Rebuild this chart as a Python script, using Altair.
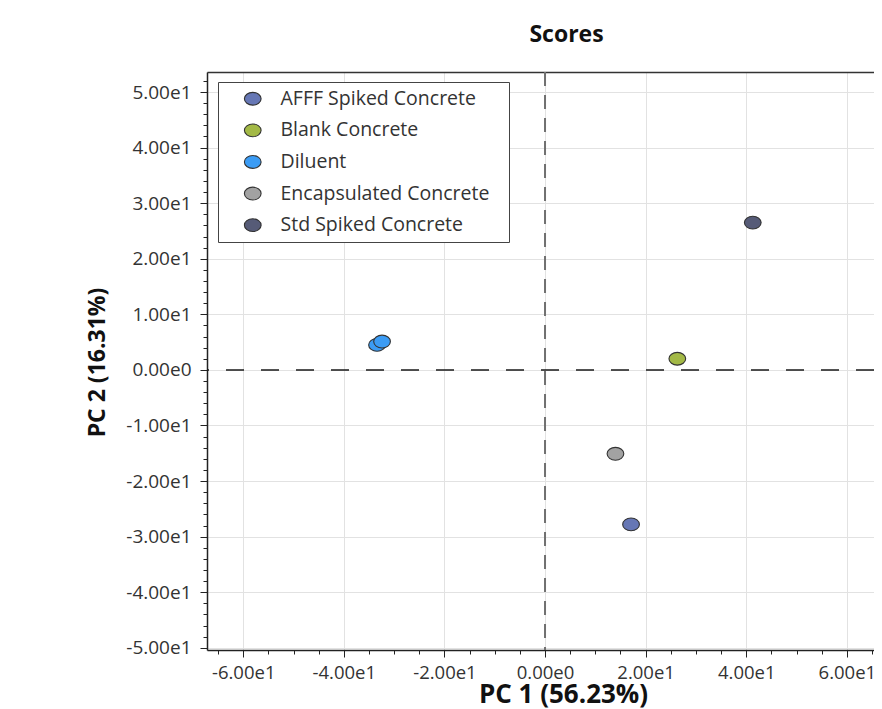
import altair as alt
import pandas as pd

# ---- data ----
groups = ["AFFF Spiked Concrete", "Blank Concrete", "Diluent", "Diluent",
          "Encapsulated Concrete", "Std Spiked Concrete"]
pc1 = [17.1, 26.3, -33.4, -32.4, 14.0, 41.3]
pc2 = [-27.8, 2.0, 4.5, 5.1, -15.1, 26.5]

legend_order = ["AFFF Spiked Concrete", "Blank Concrete", "Diluent",
                "Encapsulated Concrete", "Std Spiked Concrete"]
legend_colors = ["#6677b5", "#a3b946", "#3b9cf5", "#a2a2a2", "#565b77"]

x_major = [-60, -40, -20, 0, 20, 40, 60]
x_minor = list(range(-65, 70, 5))
y_major = list(range(-50, 60, 10))
y_minor = list(range(-50, 54, 2))

x_domain = [-67.2, 65.4]
y_domain = [-50.4, 53.6]

df = pd.DataFrame({"group": groups, "pc1": pc1, "pc2": pc2})
zero = pd.DataFrame({"v": [0]})

FONT = "Open Sans"
ELLIPSE = "M-1.15,0A1.15,0.88,0,1,0,1.15,0A1.15,0.88,0,1,0,-1.15,0Z"
LBL = "replace(replace(format(datum.value, '.2e'), '+', ''), '\u2212', '-')"

xs = alt.Scale(domain=x_domain, nice=False, zero=False)
ys = alt.Scale(domain=y_domain, nice=False, zero=False)

points = alt.Chart(df).mark_point(
    shape=ELLIPSE, filled=True, size=211, opacity=1,
    stroke="#333333", strokeWidth=1.1
).encode(
    x=alt.X("pc1:Q", scale=xs, axis=alt.Axis(
        orient="bottom",
        values=x_major, labelExpr=LBL, title="PC 1 (56.23%)",
        grid=True, gridColor="#e2e2e2", tickSize=7, tickColor="#222",
        domainColor="#222", domainWidth=1.5, labelPadding=6,
        labelFont=FONT, labelFontSize=18.5, labelColor="#333",
        titleFont=FONT, titleFontSize=26, titleFontWeight="bold",
        titleColor="#111", titleX=356, titleY=52,
        titleBaseline="alphabetic", titleAlign="center")),
    y=alt.Y("pc2:Q", scale=ys, axis=alt.Axis(
        orient="left",
        values=y_major, labelExpr=LBL, title="PC 2 (16.31%)",
        grid=True, gridColor="#e2e2e2", tickSize=7, tickColor="#222",
        domainColor="#222", domainWidth=1.5, labelPadding=9,
        labelFont=FONT, labelFontSize=19, labelColor="#333",
        titleFont=FONT, titleFontSize=23, titleFontWeight="bold",
        titleColor="#111", titleX=-110, titleY=290, titleAngle=270,
        titleBaseline="middle", titleAlign="center")),
    color=alt.Color("group:N", scale=alt.Scale(domain=legend_order, range=legend_colors),
                    legend=alt.Legend(
                        orient="none", legendX=11, legendY=10,
                        title="\u00a0", titleOrient="right", titleFontSize=10,
                        titlePadding=13,
                        strokeColor="#444", fillColor="white", padding=7,
                        labelFont=FONT, labelFontSize=19.5, labelColor="#333",
                        labelLimit=0,
                        symbolType=ELLIPSE, symbolSize=211,
                        symbolStrokeColor="#333", symbolStrokeWidth=1.1,
                        symbolOffset=18, labelOffset=18, rowPadding=10.6)),
)

minor_x = alt.Chart(df).mark_point(opacity=0).encode(
    x=alt.X("pc1:Q", scale=xs, axis=alt.Axis(
        values=x_minor, labels=False, grid=False, domain=False,
        tickSize=4, tickColor="#222", title=None, orient="bottom")),
    y=alt.Y("pc2:Q", scale=ys, axis=None),
)
minor_y = alt.Chart(df).mark_point(opacity=0).encode(
    x=alt.X("pc1:Q", scale=xs, axis=None),
    y=alt.Y("pc2:Q", scale=ys, axis=alt.Axis(
        values=y_minor, labels=False, grid=False, domain=False,
        tickSize=4, tickColor="#222", title=None, orient="left")),
)
top_frame = alt.Chart(df).mark_point(opacity=0).encode(
    x=alt.X("pc1:Q", scale=xs, axis=alt.Axis(
        orient="top", labels=False, ticks=False, grid=False, domain=True,
        domainColor="#333", domainWidth=1.5, title=None)),
    y=alt.Y("pc2:Q", scale=ys, axis=None),
)

vline = alt.Chart(zero).mark_rule(color="#707070", strokeWidth=2, strokeDash=[14, 9]).encode(
    x=alt.X("v:Q", scale=xs, axis=None))
hline = alt.Chart(zero).mark_rule(color="#1a1a1a", strokeWidth=1.5, strokeDash=[18, 17]).encode(
    y=alt.Y("v:Q", scale=ys, axis=None))

chart = alt.layer(minor_x, minor_y, top_frame, vline, hline, points).resolve_axis(
    x="independent", y="independent"
).properties(
    width=667, height=578,
    padding={"left": 199, "top": 64, "right": 0, "bottom": 58},
    autosize=alt.AutoSizeParams(type="none"),
    title=alt.Title("Scores", font=FONT, fontSize=23, fontWeight="bold",
                    color="#111", dx=26, offset=6, baseline="alphabetic",
                    anchor="middle", frame="group"),
).configure_view(stroke=None).configure(background="white")

chart.save("out.html", embed_options={"renderer": "svg", "actions": False})
